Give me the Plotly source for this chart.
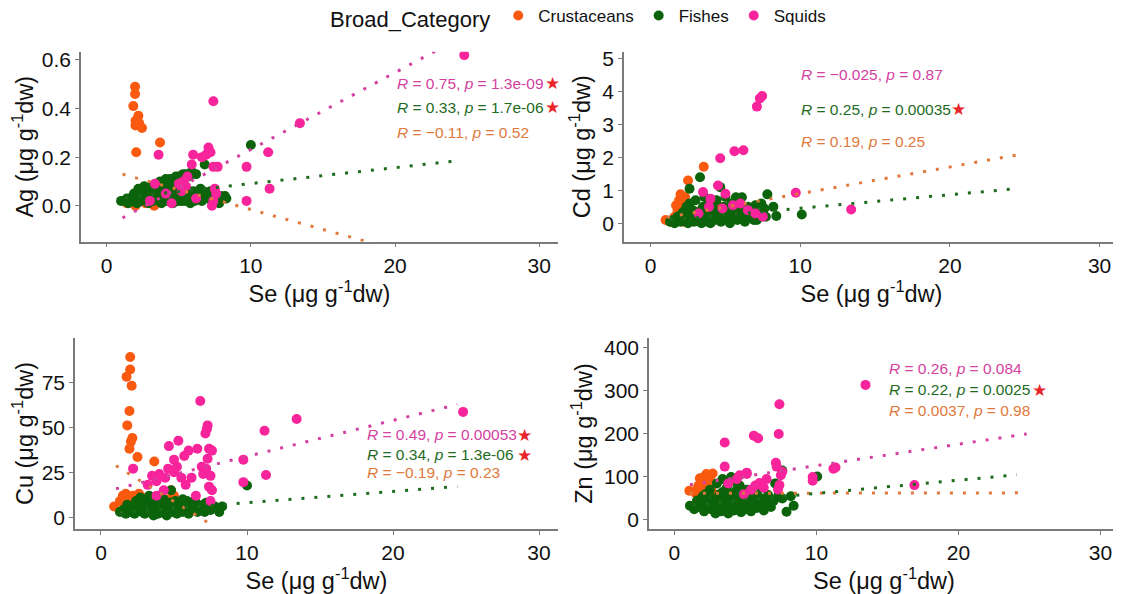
"""Se vs trace metals (Ag, Cd, Cu, Zn) by broad category, with dotted linear fits."""

import plotly.graph_objects as go

# the page body adds an 8px margin, so the figure is drawn 8px smaller and shifted
OFFSET = 8
W, H = 1121 - OFFSET, 594 - OFFSET

CATEGORIES = ["Crustaceans", "Fishes", "Squids"]
POINT_COLORS = {"Crustaceans": "#F95A10", "Fishes": "#0B640B", "Squids": "#F7249B"}
TEXT_COLORS = {"Crustaceans": "#E0783C", "Fishes": "#1E6B1E", "Squids": "#D43FA0"}
STAR_COLOR = "#E8262A"
FONT = "Liberation Sans, Arial, sans-serif"
INK = "#111111"

# ---- data: (Se, metal) pairs ----
AG_CRUSTACEANS = [
    (1.1, 0.02), (1.4, 0.01), (1.7, 0.03), (1.97, 0.49), (1.97, 0.46), (1.85, 0.41),
    (2.2, 0.37), (2.0, 0.35), (2.25, 0.34), (2.0, 0.33), (2.45, 0.32), (2.05, 0.22),
    (3.7, 0.26), (2.0, 0.0), (2.3, 0.02), (2.5, 0.05), (2.7, 0.01), (3.0, 0.03),
    (3.3, 0.0), (3.6, 0.04), (4.6, 0.06), (4.9, 0.03), (5.3, 0.06), (2.2, 0.04),
]
AG_FISHES = [
    (1.0, 0.02), (1.3, 0.02), (1.5, 0.01), (1.6, 0.03), (1.8, 0.02), (2.0, 0.04),
    (2.1, 0.01), (2.3, 0.05), (2.4, 0.02), (2.5, 0.06), (2.6, 0.03), (2.8, 0.07),
    (2.9, 0.01), (3.0, 0.05), (3.1, 0.08), (3.2, 0.02), (3.3, 0.06), (3.4, 0.09),
    (3.5, 0.03), (3.6, 0.07), (3.7, 0.10), (3.8, 0.01), (3.9, 0.05), (4.0, 0.08),
    (4.1, 0.11), (4.2, 0.02), (4.3, 0.06), (4.4, 0.11), (4.5, 0.04), (4.6, 0.01),
    (4.7, 0.07), (4.8, 0.12), (4.9, 0.03), (5.0, 0.12), (5.1, 0.05), (5.2, 0.02),
    (5.3, 0.13), (5.4, 0.07), (5.5, 0.13), (5.6, 0.03), (5.7, 0.05), (5.8, 0.01),
    (5.9, 0.14), (6.0, 0.06), (6.1, 0.02), (6.3, 0.04), (6.5, 0.07), (6.6, 0.02),
    (6.8, 0.17), (6.9, 0.05), (7.0, 0.03), (7.2, 0.06), (7.4, 0.02), (7.6, 0.04),
    (7.8, 0.01), (8.0, 0.03), (8.3, 0.03), (10.0, 0.25), (2.2, 0.07), (2.7, 0.04),
    (3.5, 0.06), (4.2, 0.09), (1.9, 0.05), (2.6, 0.08), (3.0, 0.03), (4.0, 0.02),
    (5.0, 0.02), (6.4, 0.05), (7.1, 0.04), (7.9, 0.04), (5.9, 0.04), (4.6, 0.05),
    (1.4, 0.03), (2.0, 0.02), (2.8, 0.02), (3.3, 0.03), (3.9, 0.09), (4.5, 0.10),
    (5.1, 0.11), (5.7, 0.12), (6.2, 0.13), (3.6, 0.02), (4.4, 0.03), (5.4, 0.02),
    (6.0, 0.03), (6.7, 0.06), (7.5, 0.05), (8.2, 0.04), (2.4, 0.04), (3.1, 0.05),
]
AG_SQUIDS = [
    (24.8, 0.62), (13.4, 0.34), (7.4, 0.43), (11.2, 0.22), (11.3, 0.07), (9.7, 0.16),
    (9.7, 0.02), (7.06, 0.24), (7.2, 0.22), (6.9, 0.21), (6.6, 0.20), (6.0, 0.21),
    (5.9, 0.17), (7.4, 0.16), (7.7, 0.16), (7.5, 0.07), (7.6, 0.05), (7.4, 0.02),
    (5.3, 0.10), (5.5, 0.08), (5.0, 0.09), (5.2, 0.06), (3.6, 0.21), (3.35, 0.09),
    (4.1, 0.05), (6.2, 0.03), (7.3, 0.0), (3.0, 0.02), (4.5, 0.01), (5.6, 0.12),
]

CD_CRUSTACEANS = [
    (1.0, 0.1), (1.3, 0.05), (1.6, 0.2), (1.8, 0.4), (1.9, 0.7), (2.0, 0.88),
    (2.1, 0.6), (2.2, 0.3), (2.3, 0.8), (2.0, 0.15), (2.5, 1.3), (2.4, 0.45),
    (2.6, 0.25), (3.55, 1.72), (2.8, 0.1), (3.0, 0.35), (1.7, 0.55), (2.2, 0.05),
    (4.6, 0.5), (5.0, 0.3), (3.5, 0.2),
]
CD_FISHES = [
    (1.3, 0.05), (1.5, 0.1), (1.6, 0.0), (1.8, 0.2), (2.0, 0.05), (2.1, 0.3),
    (2.3, 0.1), (2.4, 0.5), (2.5, 0.0), (2.6, 1.05), (2.7, 0.2), (2.8, 0.4),
    (2.9, 0.05), (3.0, 0.7), (3.1, 0.15), (3.2, 0.3), (3.3, 1.4), (3.4, 0.0),
    (3.5, 0.5), (3.6, 0.8), (3.7, 0.1), (3.8, 0.3), (3.9, 0.6), (4.0, 0.0),
    (4.1, 0.2), (4.2, 0.45), (4.3, 0.1), (4.4, 0.7), (4.5, 0.3), (4.65, 1.1),
    (4.7, 0.05), (4.8, 0.25), (4.9, 0.5), (5.0, 0.8), (5.1, 0.15), (5.2, 0.35),
    (5.3, 0.0), (5.4, 0.6), (5.5, 0.2), (5.7, 0.79), (5.8, 0.1), (5.9, 0.4),
    (6.1, 0.79), (6.2, 0.25), (6.3, 0.05), (6.5, 0.5), (6.6, 0.2), (6.8, 0.35),
    (6.9, 0.1), (7.0, 0.55), (7.2, 0.3), (7.4, 0.6), (7.6, 0.45), (7.8, 0.88),
    (8.2, 0.5), (8.4, 0.22), (10.1, 0.27), (1.9, 0.15), (2.2, 0.35), (2.6, 0.6),
    (3.0, 0.2), (3.4, 0.4), (3.8, 0.05), (4.4, 0.15), (5.6, 0.3), (6.4, 0.15),
    (7.1, 0.1), (7.7, 0.2), (3.6, 0.25), (4.9, 0.1),
]
CD_SQUIDS = [
    (7.1, 3.55), (7.3, 3.8), (7.45, 3.87), (5.6, 2.19), (6.2, 2.22), (4.65, 1.98),
    (9.7, 0.93), (13.4, 0.42), (4.5, 1.15), (3.5, 0.95), (5.0, 0.9), (4.0, 0.75),
    (5.5, 0.55), (6.5, 0.4), (7.0, 0.3), (7.5, 0.2), (3.2, 0.3), (4.8, 0.45),
    (6.0, 0.6), (3.9, 0.5),
]

CU_CRUSTACEANS = [
    (0.9, 6), (1.3, 9), (1.5, 12), (1.7, 13), (1.8, 5), (2.0, 89), (2.0, 82),
    (1.75, 78), (2.1, 73), (1.95, 59), (1.8, 51), (2.15, 44), (2.05, 42),
    (1.95, 38), (2.5, 33.5), (3.65, 31), (2.0, 9), (2.2, 12), (2.4, 7), (2.6, 13),
    (2.8, 11), (3.0, 6), (3.3, 9), (3.6, 4), (4.6, 10), (4.8, 15), (5.0, 12),
    (2.3, 4), (1.6, 8), (2.9, 8),
]
CU_FISHES = [
    (1.3, 3), (1.5, 4), (1.7, 2), (1.9, 5), (2.0, 3), (2.2, 6), (2.3, 2), (2.5, 4),
    (2.6, 7), (2.8, 3), (2.9, 5), (3.0, 2), (3.1, 8), (3.2, 4), (3.3, 12), (3.4, 3),
    (3.5, 6), (3.6, 1), (3.7, 9), (3.8, 4), (3.9, 2), (4.0, 7), (4.1, 5), (4.2, 3),
    (4.3, 10), (4.4, 2), (4.5, 6), (4.6, 4), (4.7, 8), (4.8, 15), (4.9, 3), (5.0, 5),
    (5.1, 9), (5.2, 2), (5.3, 6), (5.4, 4), (5.5, 7), (5.6, 3), (5.8, 5), (5.9, 9),
    (6.0, 2), (6.2, 6), (6.3, 4), (6.5, 8), (6.6, 3), (6.8, 5), (7.0, 7), (7.1, 3),
    (7.3, 5), (7.5, 4), (7.8, 6), (8.0, 5), (8.3, 6), (10.0, 17.6), (1.8, 7),
    (2.4, 9), (2.7, 11), (3.6, 11), (4.0, 12), (5.6, 10), (6.4, 9), (7.2, 8),
    (8.1, 3), (3.0, 6), (4.5, 1),
]
CU_SQUIDS = [
    (6.8, 64.5), (13.4, 54.5), (11.2, 48), (24.8, 58.5), (7.3, 51), (7.25, 49),
    (7.15, 46.5), (5.3, 42.5), (4.65, 39.5), (6.6, 38), (7.4, 38), (7.6, 37),
    (6.0, 37), (5.7, 34), (5.0, 32), (7.3, 32.5), (9.75, 32), (9.75, 19.5),
    (11.3, 23.5), (2.2, 27), (4.0, 24), (3.5, 23), (3.8, 20), (4.6, 27), (5.2, 28),
    (5.0, 25), (5.5, 22), (6.2, 22), (5.8, 18), (7.0, 24), (7.2, 27), (7.5, 23),
    (7.4, 17), (7.6, 15), (7.5, 9), (3.2, 18), (4.3, 15), (6.5, 12), (3.8, 12),
    (4.4, 22), (6.9, 28),
]

ZN_CRUSTACEANS = [
    (1.06, 68), (1.5, 62), (1.7, 80), (1.8, 97), (2.0, 85), (2.1, 100), (2.26, 107),
    (2.7, 108), (2.5, 95), (2.2, 75), (1.9, 55), (2.4, 65), (2.6, 72), (2.0, 48),
    (2.3, 90), (2.8, 60), (1.6, 72), (3.0, 50), (4.8, 58), (2.2, 40),
]
ZN_FISHES = [
    (1.1, 33), (1.4, 25), (1.6, 45), (1.8, 30), (2.0, 55), (2.1, 20), (2.3, 40),
    (2.5, 70), (2.6, 25), (2.8, 50), (2.9, 15), (3.0, 85), (3.1, 35), (3.2, 60),
    (3.3, 20), (3.4, 95), (3.5, 45), (3.6, 28), (3.7, 75), (3.8, 15), (3.9, 55),
    (4.0, 38), (4.1, 90), (4.2, 22), (4.3, 65), (4.4, 48), (4.5, 30), (4.6, 80),
    (4.7, 18), (4.8, 55), (4.9, 40), (5.0, 25), (5.1, 70), (5.2, 35), (5.3, 50),
    (5.4, 20), (5.5, 62), (5.6, 42), (5.8, 28), (5.9, 55), (6.0, 35), (6.2, 48),
    (6.3, 22), (6.5, 40), (6.6, 58), (6.8, 30), (7.0, 45), (7.1, 85), (7.3, 55),
    (7.6, 115), (7.6, 50), (7.9, 19), (8.2, 55), (8.4, 33), (10.06, 101),
    (2.2, 60), (2.7, 35), (3.4, 65), (3.9, 25), (4.4, 70), (5.0, 60), (3.0, 30),
    (4.0, 100), (5.5, 40), (6.1, 75),
]
ZN_SQUIDS = [
    (13.46, 314), (7.4, 269), (7.35, 200), (5.6, 196), (5.9, 190), (3.55, 180),
    (3.55, 124), (7.15, 133), (7.2, 124), (11.2, 119), (11.35, 122), (9.74, 100),
    (9.74, 91), (16.9, 81), (5.1, 110), (4.6, 104), (5.7, 80), (6.0, 86), (7.5, 104),
    (7.4, 81), (7.3, 71), (5.1, 107), (4.4, 95), (5.4, 70), (6.5, 95), (4.9, 60),
    (7.6, 112), (3.8, 85), (6.3, 75),
]

# fitted lines (fullrange), endpoints: (x0, x1, y0, y1)
AG_FITS = {"Crustaceans": (1.1, 24.5, 0.13, -0.253), "Fishes": (1.3, 24.3, 0.034, 0.185),
           "Squids": (1.1, 24.8, -0.05, 0.70)}
CD_FITS = {"Crustaceans": (1.1, 24.5, 0.18, 2.08), "Fishes": (1.3, 24.4, 0.10, 1.05)}
CU_FITS = {"Crustaceans": (1.03, 7.4, 28.6, -3.3), "Fishes": (1.3, 24.4, 2.6, 17.05),
           "Squids": (1.03, 24.4, 15.8, 62.6)}
ZN_FITS = {"Crustaceans": (1.1, 24.5, 62, 63), "Fishes": (1.3, 24.1, 35, 105),
           "Squids": (1.1, 24.8, 82, 200)}

# stat_cor labels: (category, R, p, label_y, significant)
AG_LABELS = [("Squids", "0.75", "1.3e-09", 0.505, True), ("Fishes", "0.33", "1.7e-06", 0.405, True),
             ("Crustaceans", "\u22120.11", "0.52", 0.30, False)]
CD_LABELS = [("Squids", "\u22120.025", "0.87", 4.53, False), ("Fishes", "0.25", "0.00035", 3.47, True),
             ("Crustaceans", "0.19", "0.25", 2.5, False)]
CU_LABELS = [("Squids", "0.49", "0.00053", 45.8, True), ("Fishes", "0.34", "1.3e-06", 34.7, True),
             ("Crustaceans", "\u22120.19", "0.23", 24.8, False)]
ZN_LABELS = [("Squids", "0.26", "0.084", 353, False), ("Fishes", "0.22", "0.0025", 303, True),
             ("Crustaceans", "0.0037", "0.98", 255, False)]

X_RANGE = [-1.78, 31.3]
X_TICKS = [0, 10, 20, 30]

# panel: metal, points, fits, labels, label_x, star_x, y range, y ticks, y tick text,
# plot area box in reference pixels (left, right, top, bottom)
PANELS = [
    ("Ag", {"Crustaceans": AG_CRUSTACEANS, "Fishes": AG_FISHES, "Squids": AG_SQUIDS}, AG_FITS,
     AG_LABELS, 20.0, 30.9, [-0.148, 0.634], [0, 0.2, 0.4, 0.6], ["0.0", "0.2", "0.4", "0.6"],
     (81, 558, 51.7, 241.7)),
    ("Cd", {"Crustaceans": CD_CRUSTACEANS, "Fishes": CD_FISHES, "Squids": CD_SQUIDS}, CD_FITS,
     CD_LABELS, 9.93, 20.6, [-0.56, 5.22], [0, 1, 2, 3, 4, 5], None,
     (624, 1119, 51.7, 241.7)),
    ("Cu", {"Crustaceans": CU_CRUSTACEANS, "Fishes": CU_FISHES, "Squids": CU_SQUIDS}, CU_FITS,
     CU_LABELS, 18.1, 29.0, [-6.5, 99.5], [0, 25, 50, 75], None,
     (75, 558, 338, 529)),
    ("Zn", {"Crustaceans": ZN_CRUSTACEANS, "Fishes": ZN_FISHES, "Squids": ZN_SQUIDS}, ZN_FITS,
     ZN_LABELS, 15.0, 25.7, [-21, 423], [0, 100, 200, 300, 400], None,
     (649, 1119, 338, 529)),
]


def px_x(px):
    return (px - OFFSET) / W


def px_y(py):
    return 1 - (py - OFFSET) / H


fig = go.Figure()
annotations = []
layout_axes = {}

for i, (metal, points, fits, labels, lab_x, star_x, y_range, y_ticks, y_text, box) in enumerate(PANELS):
    n = "" if i == 0 else str(i + 1)
    xref, yref = "x" + n, "y" + n
    left, right, top, bottom = box

    for cat in CATEGORIES:
        pts = points[cat]
        fig.add_trace(
            go.Scatter(
                x=[p[0] for p in pts],
                y=[p[1] for p in pts],
                mode="markers",
                marker=dict(size=10, color=POINT_COLORS[cat], line=dict(width=0)),
                name=cat,
                legendgroup=cat,
                showlegend=(i == 0),
                xaxis=xref,
                yaxis=yref,
            )
        )
    for cat in CATEGORIES:
        if cat not in fits:
            continue
        x0, x1, y0, y1 = fits[cat]
        fig.add_trace(
            go.Scatter(
                x=[x0, x1],
                y=[y0, y1],
                mode="lines",
                line=dict(color=TEXT_COLORS[cat], width=3, dash="3px,10px"),
                showlegend=False,
                hoverinfo="skip",
                xaxis=xref,
                yaxis=yref,
            )
        )

    for cat, r_txt, p_txt, ly, sig in labels:
        annotations.append(dict(
            x=lab_x, y=ly, xref=xref, yref=yref, xanchor="left", yanchor="middle",
            text=f"<i>R</i> = {r_txt}, <i>p</i> = {p_txt}", showarrow=False,
            font=dict(family=FONT, size=15.5, color=TEXT_COLORS[cat]),
        ))
        if sig:
            annotations.append(dict(
                x=star_x, y=ly, xref=xref, yref=yref, xanchor="center", yanchor="middle",
                text="\u2605", showarrow=False,
                font=dict(family="DejaVu Sans", size=17, color=STAR_COLOR),
            ))

    axis_style = dict(
        showline=True, linecolor="#7a7a7a", linewidth=1.5, ticks="outside",
        ticklen=4, tickcolor="#7a7a7a", showgrid=False, zeroline=False,
        tickfont=dict(family=FONT, size=21, color=INK),
    )
    layout_axes["xaxis" + n] = dict(
        axis_style, domain=[px_x(left), px_x(right)], anchor=yref, range=X_RANGE,
        tickvals=X_TICKS,
        title=dict(text="Se (\u03bcg g<sup>-1</sup>dw)", standoff=1,
                   font=dict(family=FONT, size=23.5, color=INK)),
    )
    ydict = dict(
        axis_style, domain=[px_y(bottom), px_y(top)], anchor=xref, range=y_range,
        tickvals=y_ticks,
        title=dict(text=f"{metal} (\u03bcg g<sup>-1</sup>dw)", standoff=5,
                   font=dict(family=FONT, size=23.5, color=INK)),
    )
    if y_text:
        ydict["ticktext"] = y_text
    layout_axes["yaxis" + n] = ydict

fig.update_layout(
    width=W,
    height=H,
    margin=dict(l=0, r=0, t=0, b=0, autoexpand=False),
    paper_bgcolor="white",
    plot_bgcolor="white",
    font=dict(family=FONT, color=INK),
    annotations=annotations,
    legend=dict(
        orientation="h", x=px_x(328), y=1.017, xanchor="left", yanchor="top",
        title=dict(text="Broad_Category", font=dict(family=FONT, size=22), side="left"),
        font=dict(family=FONT, size=17), itemwidth=30, bgcolor="rgba(0,0,0,0)",
    ),
    **layout_axes,
)

fig.write_html("out.html")
